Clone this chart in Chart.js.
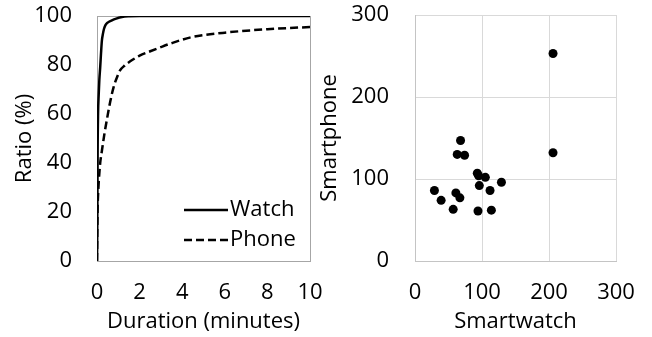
<!DOCTYPE html>
<html lang="en">
  <head>
    <meta charset="UTF-8" />
    <title>Duration CDF and usage scatter</title>
    <script src="https://cdn.jsdelivr.net/npm/chart.js"></script>
    <style>
      body { margin: 0; background: #fff; }
      #wrap { position: relative; width: 652px; height: 337px; }
      #cdfChart { position: absolute; left: 0; top: 0; }
      #scatterChart { position: absolute; left: 310px; top: 0; }
    </style>
  </head>
  <body>
    <div id="wrap">
      <canvas id="cdfChart" width="330" height="337"></canvas>
      <canvas id="scatterChart" width="342" height="337"></canvas>
    </div>

    <script>
      // CDF of duration (minutes -> ratio %)
      const watchMinutes = [0, 0.01, 0.02, 0.03, 0.05, 0.08, 0.11, 0.15, 0.19, 0.23, 0.28, 0.33, 0.39, 0.5, 0.7, 0.9, 1.17, 1.5, 2, 10];
      const watchRatio = [0, 8, 25, 45, 60, 68, 74, 79, 85, 90, 92.8, 94.8, 96.2, 97.3, 98.2, 98.9, 99.6, 99.9, 100, 100];
      const phoneMinutes = [0, 0.01, 0.03, 0.05, 0.08, 0.15, 0.23, 0.35, 0.47, 0.62, 0.78, 0.94, 1.09, 1.3, 1.56, 2.0, 2.5, 3.0, 3.5, 4.4, 5.0, 6.0, 7.0, 8.0, 9.0, 10];
      const phoneRatio = [0, 10, 22, 27, 32, 40, 45, 52, 58, 65, 71, 75, 77.9, 79.8, 81.5, 83.8, 85.6, 87.3, 88.9, 91.3, 92.2, 93.2, 94, 94.6, 95.1, 95.5];

      // Smartwatch vs smartphone, one point per user
      const smartwatchValues = [206, 206, 68, 63, 74, 93, 95, 105, 129, 96, 112, 29, 61, 67, 39, 57, 94, 114];
      const smartphoneValues = [253, 132, 147, 130, 129, 107, 104, 102, 96, 92, 86, 86, 83, 77, 74, 63, 61, 62];

      const seriesNames = ["Watch", "Phone"];

      Chart.defaults.font.family = "'Open Sans', sans-serif";
      Chart.defaults.font.size = 22;
      Chart.defaults.color = "#000";

      const toPoints = (xs, ys) => xs.map((x, i) => ({ x: x, y: ys[i] }));

      // fixed axis sizes, and no extra padding from tick labels
      const fixX = (h) => (s) => { s.height = h; s.paddingLeft = 0; s.paddingRight = 0; };
      const fixY = (w) => (s) => { s.width = w; s.paddingTop = 0; s.paddingBottom = 0; };

      // legend drawn inside the plot area, bottom right
      const innerLegend = {
        id: "innerLegend",
        afterDraw(chart) {
          const ctx = chart.ctx;
          ctx.save();
          ctx.font = "22px 'Open Sans'";
          ctx.textBaseline = "middle";
          ctx.fillStyle = "#000";
          chart.data.datasets.forEach((ds, i) => {
            const y = 210 + i * 30;
            ctx.beginPath();
            ctx.lineWidth = ds.borderWidth;
            ctx.strokeStyle = ds.borderColor;
            ctx.setLineDash(ds.borderDash || []);
            ctx.moveTo(184, y);
            ctx.lineTo(228, y);
            ctx.stroke();
            ctx.fillText(ds.label, 230, y);
          });
          ctx.restore();
        },
      };

      const boxColor = "#a6a6a6";

      new Chart(document.getElementById("cdfChart"), {
        type: "scatter",
        data: {
          datasets: [
            {
              label: seriesNames[0],
              data: toPoints(watchMinutes, watchRatio),
              showLine: true,
              borderColor: "#000",
              borderWidth: 2.5,
              pointRadius: 0,
              cubicInterpolationMode: "monotone",
            },
            {
              label: seriesNames[1],
              data: toPoints(phoneMinutes, phoneRatio),
              showLine: true,
              borderColor: "#000",
              borderWidth: 2.5,
              borderDash: [8, 4],
              pointRadius: 0,
              cubicInterpolationMode: "monotone",
            },
          ],
        },
        options: {
          responsive: false,
          animation: false,
          layout: { autoPadding: false, padding: { top: 16, right: 20, left: 0, bottom: 0 } },
          plugins: { legend: { display: false }, tooltip: { enabled: false } },
          scales: {
            x: {
              type: "linear",
              min: 0,
              max: 10,
              ticks: { stepSize: 2, padding: 19, maxRotation: 0 },
              grid: {
                drawTicks: false,
                color: (c) => (c.tick && c.tick.value === 10 ? boxColor : "transparent"),
              },
              border: { color: boxColor, width: 1 },
              title: { display: true, text: "Duration (minutes)", padding: { top: 0, bottom: 2 } },
              afterFit: fixX(76),
            },
            y: {
              min: 0,
              max: 100,
              ticks: { stepSize: 20, padding: 25 },
              grid: {
                drawTicks: false,
                color: (c) => (c.tick && c.tick.value === 100 ? boxColor : "transparent"),
              },
              border: { color: boxColor, width: 1 },
              title: { display: true, text: "Ratio (%)", padding: { top: 12, bottom: 0 } },
              afterFit: fixY(97),
            },
          },
        },
        plugins: [innerLegend],
      });

      new Chart(document.getElementById("scatterChart"), {
        type: "scatter",
        data: {
          datasets: [
            {
              label: "Users",
              data: toPoints(smartwatchValues, smartphoneValues),
              backgroundColor: "#000",
              borderColor: "#000",
              pointRadius: 4.5,
              borderWidth: 0,
            },
          ],
        },
        options: {
          responsive: false,
          animation: false,
          layout: { autoPadding: false, padding: { top: 15, right: 36, left: 0, bottom: 0 } },
          plugins: { legend: { display: false }, tooltip: { enabled: false } },
          scales: {
            x: {
              min: 0,
              max: 300,
              ticks: { stepSize: 100, padding: 19, maxRotation: 0 },
              grid: { drawTicks: false, color: "#d9d9d9" },
              border: { color: "#c4c4c4", width: 1 },
              title: { display: true, text: "Smartwatch", padding: { top: 0, bottom: 2 } },
              afterFit: fixX(76),
            },
            y: {
              min: 0,
              max: 300,
              ticks: { stepSize: 100, padding: 26 },
              grid: { drawTicks: false, color: "#d9d9d9" },
              border: { color: "#c4c4c4", width: 1 },
              title: { display: true, text: "Smartphone", padding: { top: 7, bottom: 0 } },
              afterFit: fixY(105),
            },
          },
        },
      });
    </script>
  </body>
</html>
